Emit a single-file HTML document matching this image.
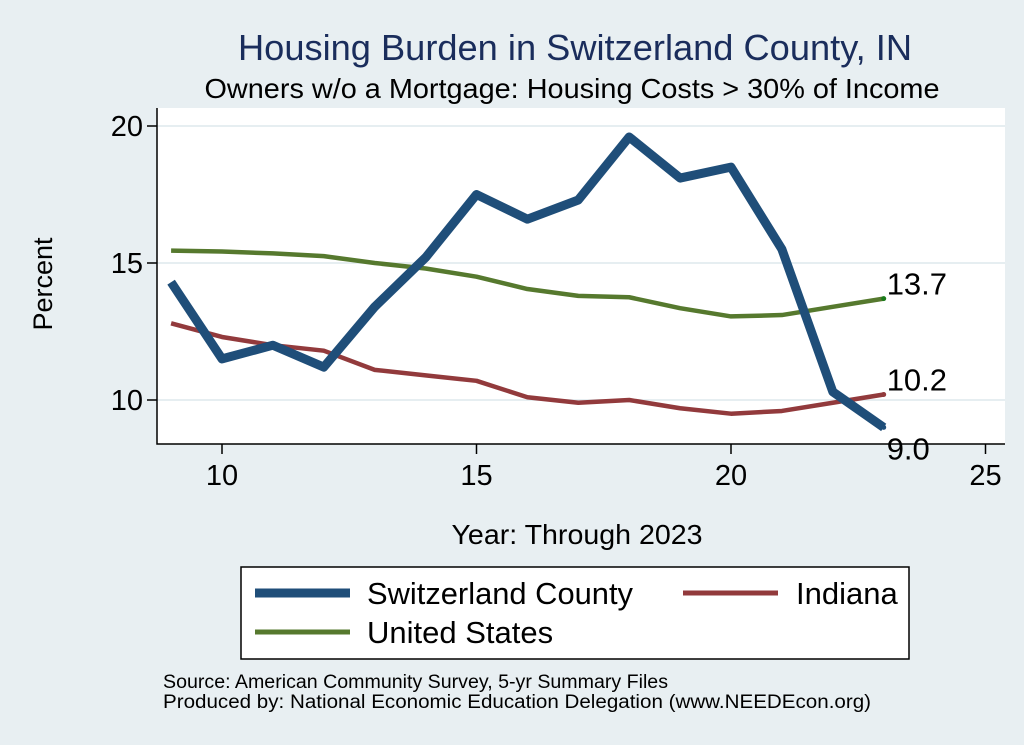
<!DOCTYPE html>
<html><head><meta charset="utf-8"><style>
body{margin:0;background:#e8eff2;font-family:"Liberation Sans",sans-serif}
svg{display:block}
</style></head><body>
<svg id="c" width="1024" height="745" xmlns="http://www.w3.org/2000/svg">
<rect x="0" y="0" width="1024" height="745" fill="#e8eff2"/>
<text x="575" y="60" text-anchor="middle" font-size="36" fill="#1a2d5c" textLength="674" lengthAdjust="spacingAndGlyphs">Housing Burden in Switzerland County, IN</text>
<text x="572" y="98" text-anchor="middle" font-size="28" fill="#000" textLength="735" lengthAdjust="spacingAndGlyphs">Owners w/o a Mortgage: Housing Costs &gt; 30% of Income</text>
<rect x="157" y="108" width="848" height="336" fill="#fff"/>
<g id="grid"></g><g id="axes"></g><g id="series"></g><g id="labels"></g>
<text x="52" y="284" text-anchor="middle" font-size="27" transform="rotate(-90 52 284)">Percent</text>
<text x="577" y="544" text-anchor="middle" font-size="28" textLength="251" lengthAdjust="spacingAndGlyphs">Year: Through 2023</text>
<g>
<rect x="241" y="567" width="668" height="92" fill="#fff" stroke="#000" stroke-width="1.5"/>
<line x1="255" y1="593" x2="350" y2="593" stroke="#1f4e79" stroke-width="9"/>
<text x="367" y="604" font-size="31" textLength="266" lengthAdjust="spacingAndGlyphs">Switzerland County</text>
<line x1="683" y1="593" x2="778" y2="593" stroke="#923a3c" stroke-width="5"/>
<text x="796" y="604" font-size="31">Indiana</text>
<line x1="255" y1="632" x2="350" y2="632" stroke="#56792e" stroke-width="5"/>
<text x="367" y="643" font-size="31">United States</text>
</g>
<text x="163" y="688" font-size="19" textLength="505" lengthAdjust="spacingAndGlyphs">Source: American Community Survey, 5-yr Summary Files</text>
<text x="163" y="708" font-size="19" textLength="708" lengthAdjust="spacingAndGlyphs">Produced by: National Economic Education Delegation (www.NEEDEcon.org)</text>
</svg>
<script>
const years=[9,10,11,12,13,14,15,16,17,18,19,20,21,22,23];
const swiss=[14.3,11.5,12.0,11.2,13.4,15.2,17.5,16.6,17.3,19.6,18.1,18.5,15.5,10.3,9.0];
const indiana=[12.8,12.3,12.0,11.8,11.1,10.9,10.7,10.1,9.9,10.0,9.7,9.5,9.6,9.9,10.2];
const us=[15.45,15.42,15.35,15.25,15.0,14.8,14.5,14.05,13.8,13.75,13.35,13.05,13.1,13.4,13.7];
const xTicks=[10,15,20,25];
const yTicks=[10,15,20];
const NS="http://www.w3.org/2000/svg";
const X=v=>222+(v-10)*50.9;
const Y=v=>400-(v-10)*27.4;
function mk(t,a,p){const e=document.createElementNS(NS,t);for(const k in a)e.setAttribute(k,a[k]);p.appendChild(e);return e;}
const grid=document.getElementById('grid'),axes=document.getElementById('axes'),series=document.getElementById('series'),labels=document.getElementById('labels');
yTicks.forEach(v=>{
 const g=mk('line',{x1:157,x2:1005,y1:Y(v),y2:Y(v),stroke:'#e6eef1','stroke-width':2},grid);
 
 
 const t=mk('line',{x1:147,x2:157,y1:Y(v),y2:Y(v),stroke:'#000','stroke-width':1.5},axes);
 
 
 const l=mk('text',{x:143,y:Y(v)+10,'text-anchor':'end','font-size':29},axes);l.textContent=v;
 
 
});
xTicks.forEach(v=>{
 const t=mk('line',{x1:X(v),x2:X(v),y1:444,y2:454,stroke:'#000','stroke-width':1.5},axes);
 
 
 const l=mk('text',{x:X(v),y:485,'text-anchor':'middle','font-size':29},axes);l.textContent=v;
 
 
});
const ax=mk('path',{d:'M157,108 V444 H1005',fill:'none',stroke:'#000','stroke-width':1.5},axes);


function line(vals,col,w,name){
 const p=mk('path',{d:vals.map((v,i)=>(i?'L':'M')+X(years[i])+','+Y(v)).join(''),fill:'none',stroke:col,'stroke-width':w,'stroke-linejoin':'round'},series);
 
 
}
line(us,'#56792e',4.5,'line-united-states');
line(indiana,'#923a3c',4.5,'line-indiana');
line(swiss,'#1f4e79',9,'line-switzerland-county');
const last=years.length-1;
[[us,'#1a7a1a',0,'end-label-us'],[indiana,'#923a3c',0,'end-label-indiana'],[swiss,'#1f4e79',36,'end-label-switzerland']].forEach(([s,c,dy,n])=>{
 const d=mk('circle',{cx:X(years[last]),cy:Y(s[last]),r:2.5,fill:c},labels);
 
 
 const t=mk('text',{x:X(years[last])+3,y:Y(s[last])-4+dy,'font-size':31},labels);
 t.textContent=s[last].toFixed(1);
 
 
});
</script>
</body></html>
